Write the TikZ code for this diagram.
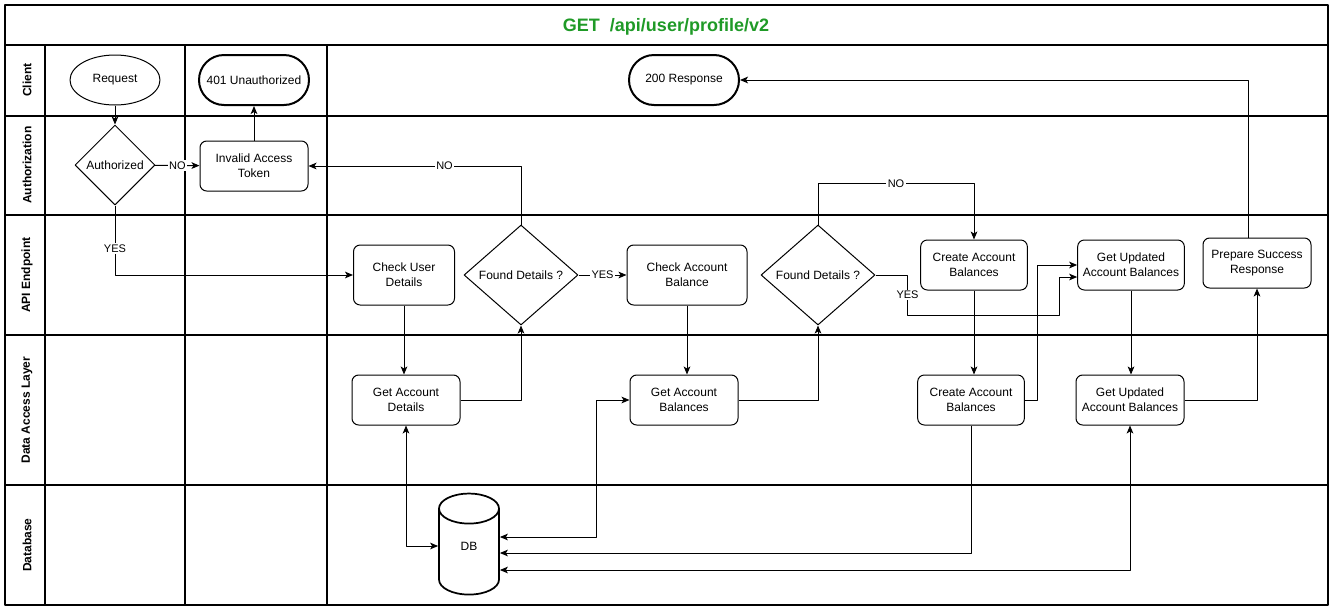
\documentclass[tikz,border=0pt]{standalone}
\usepackage{fontspec}
\setmainfont{Liberation Sans}
\usepackage{tikz}
\usetikzlibrary{arrows.meta, shapes.geometric, calc}
\definecolor{ttlgreen}{HTML}{1F9A27}
\tikzset{
  lane/.style={draw=black, line width=0.9pt},
  sbox/.style={draw=black, rounded corners=5pt, line width=0.75pt, align=center,
               minimum width=81pt, minimum height=37.5pt, inner sep=2pt,
               font=\fontsize{9}{11.5}\selectfont},
  tbox/.style={draw=black, line width=1.5pt, rounded corners=18.75pt,
               minimum width=82.5pt, minimum height=37.5pt, inner sep=2pt,
               font=\fontsize{9}{11.5}\selectfont},
  dbox/.style={diamond, draw=black, line width=0.75pt, inner sep=0pt, aspect=1.14,
               minimum width=85.5pt, minimum height=75pt, font=\fontsize{9}{11.5}\selectfont},
  ebox/.style={ellipse, draw=black, line width=0.75pt, minimum width=67.5pt,
               minimum height=37.5pt, font=\fontsize{9}{11.5}\selectfont},
  dbshape/.style={cylinder, shape border rotate=90, draw=black, line width=1.3pt,
                  aspect=1.8, minimum width=45pt, minimum height=75.75pt, inner sep=0pt,
                  font=\fontsize{9}{11.5}\selectfont},
  arr/.style={->, line width=0.75pt},
  darr/.style={<->, line width=0.75pt},
  lbl/.style={fill=white, inner sep=1pt, font=\fontsize{8.25}{9}\selectfont},
  lanelbl/.style={rotate=90, font=\bfseries\fontsize{9}{10}\selectfont},
}

\begin{document}
\begin{tikzpicture}[x=0.75pt, y=-0.75pt, line join=round,
    >={Stealth[length=6pt, width=5pt, inset=1.5pt]}]
  \useasboundingbox (0,0) rectangle (1334,611);

  %% ── Swimlane frame ──
  \draw[lane] (5,5) rectangle (1328,605);
  \draw[lane] (5,45) -- (1328,45);
  \foreach \y in {116,215,335,485} \draw[lane] (5,\y) -- (1328,\y);
  \foreach \x in {45,185,327} \draw[lane] (\x,45) -- (\x,605);

  \node[font=\bfseries\fontsize{13.5}{15}\selectfont, text=ttlgreen] (title) at (666,27) {GET\ \ /api/user/profile/v2};

  \node[lanelbl] (lclient) at (27,80) {Client};
  \node[lanelbl] (lauth) at (27,165) {Authorization};
  \node[lanelbl] (lapi) at (27,275) {API Endpoint};
  \node[lanelbl] (ldal) at (27,410) {Data Access Layer};
  \node[lanelbl] (ldb) at (27,545) {Database};

  %% ── Client lane ──
  \node[ebox] (request) at (115,80) {Request};
  \node[tbox] (unauth) at (254,80) {401 Unauthorized};
  \node[tbox] (okresp) at (684,80) {200 Response};

  %% ── Authorization lane ──
  \node[dbox, aspect=1, minimum width=60pt, minimum height=60pt] (authorized) at (115,165) {Authorized};
  \node[sbox] (invalid) at (254,166) {Invalid Access\\Token};

  %% ── API Endpoint lane ──
  \node[sbox, minimum width=75.75pt, minimum height=45pt] (checkuser) at (404,275) {Check User\\Details};
  \node[dbox] (found1) at (521,275) {Found Details ?};
  \node[sbox, minimum width=90pt, minimum height=45pt] (checkbal) at (687,275) {Check Account\\Balance};
  \node[dbox] (found2) at (818,275) {Found Details ?};
  \node[sbox, minimum width=80pt] (createapi) at (974,265) {Create Account\\Balances};
  \node[sbox, minimum width=80pt] (getupdapi) at (1131,265) {Get Updated\\Account Balances};
  \node[sbox] (prepare) at (1257,263) {Prepare Success\\Response};

  %% ── Data Access Layer lane ──
  \node[sbox] (getdetails) at (406,400) {Get Account\\Details};
  \node[sbox] (getbal) at (684,400) {Get Account\\Balances};
  \node[sbox, minimum width=80pt] (createdal) at (971,400) {Create Account\\Balances};
  \node[sbox] (getupddal) at (1130,400) {Get Updated\\Account Balances};

  %% ── Database lane ──
  \node[dbshape] (db) at (469,552) {\raisebox{4.5pt}[\height][\depth]{DB}};

  %% ── Connectors ──
  \draw[arr] (request) -- (authorized);
  \draw[arr] (authorized) -- node[lbl]{NO} (invalid);
  \draw[arr] (invalid) -- (unauth);
  \draw[arr] (authorized.south) |- node[lbl, pos=0.31]{YES} (checkuser.west);
  \draw[arr] (checkuser.south) -- (checkuser.south |- getdetails.north);
  \draw[arr] (getdetails.east) -| (found1.south);
  \draw[arr] (found1.north) |- node[lbl, pos=0.68]{NO} (invalid.east);
  \draw[arr] (found1.east) -- node[lbl]{YES} (checkbal.west);
  \draw[arr] (checkbal.south) -- (checkbal.south |- getbal.north);
  \draw[arr] (getbal.east) -| (found2.south);
  \draw[arr] (found2.north) -- ++(0,-41) -| node[lbl, pos=0.25]{NO} (createapi.north);
  \draw[arr] (found2.east) -- ++(32,0) -- node[lbl]{YES} ++(0,40) -- ++(152,0) |- ([yshift=-9pt]getupdapi.west);
  \draw[arr] (createapi.south) -- (createapi.south |- createdal.north);
  \draw[arr] (createdal.east) -- ++(13,0) |- (getupdapi.west);
  \draw[arr] (getupdapi.south) -- (getupdapi.south |- getupddal.north);
  \draw[arr] (getupddal.east) -| (prepare.south);
  \draw[arr] ([xshift=-6.75pt]prepare.north) |- (okresp.east);

  %% DB links
  \draw[darr] (getdetails.south) |- ([yshift=4.5pt]db.west);
  \draw[darr] (getbal.west) -- ++(-33,0) |- ([yshift=11.25pt]db.east);
  \draw[arr] (createdal.south) |- ([yshift=-0.75pt]db.east);
  \draw[darr] (getupddal.south) |- ([yshift=-13.5pt]db.east);
\end{tikzpicture}
\end{document}
